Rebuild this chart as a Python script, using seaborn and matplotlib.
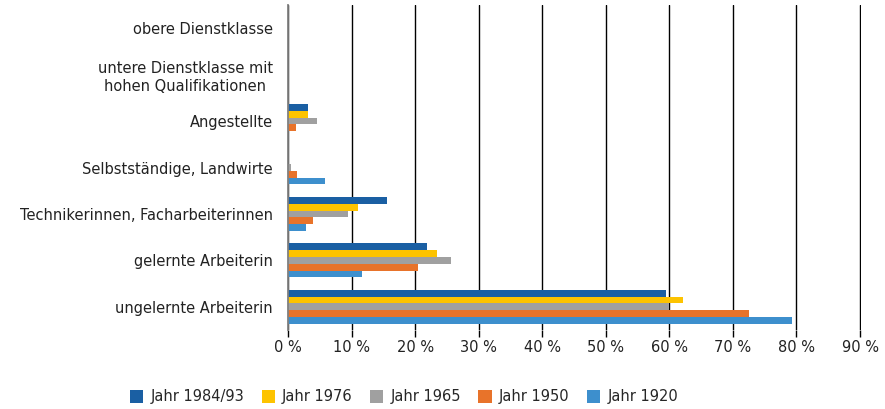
import pandas as pd
import matplotlib
matplotlib.use("Agg")
import matplotlib.pyplot as plt
import seaborn as sns

categories = [
    "obere Dienstklasse",
    "untere Dienstklasse mit\nhohen Qualifikationen",
    "Angestellte",
    "Selbstständige, Landwirte",
    "Technikerinnen, Facharbeiterinnen",
    "gelernte Arbeiterin",
    "ungelernte Arbeiterin",
]
years = ["Jahr 1984/93", "Jahr 1976", "Jahr 1965", "Jahr 1950", "Jahr 1920"]

# percentages per category, one list per year
val_1984 = [0, 0, 3.2, 0, 15.5, 21.8, 59.4]
val_1976 = [0, 0, 3.2, 0, 11.0, 23.4, 62.1]
val_1965 = [0, 0, 4.5, 0.5, 9.5, 25.6, 60.0]
val_1950 = [0, 0, 1.3, 1.4, 4.0, 20.5, 72.6]
val_1920 = [0, 0, 0, 5.8, 2.9, 11.7, 79.3]

colors = ["#1a5fa3", "#fdc300", "#a0a0a0", "#e8732a", "#3d8fcd"]
xticks = [0, 10, 20, 30, 40, 50, 60, 70, 80, 90]

rows = []
for year, vals in zip(years, [val_1984, val_1976, val_1965, val_1950, val_1920]):
    for cat, v in zip(categories, vals):
        rows.append({"Kategorie": cat, "Jahr": year, "Anteil": v})
df = pd.DataFrame(rows)

sns.set_style("white")
plt.rcParams["font.family"] = ["DejaVu Sans"]

fig = plt.figure(figsize=(8.85, 4.09), dpi=100)
ax = fig.add_axes([288 / 885, 1 - 330 / 409, (861 - 288) / 885, (330 - 5) / 409])

sns.barplot(data=df, y="Kategorie", x="Anteil", hue="Jahr", order=categories,
            hue_order=years, palette=colors, orient="h", width=0.73,
            errorbar=None, ax=ax, saturation=1, linewidth=0)

ax.set_xlim(0, 90.15)
ax.set_ylim(6.5, -0.5)
ax.set_xticks(xticks)
ax.set_xticklabels([f"{t} %" for t in xticks], fontsize=10.5, color="#222222")
ax.tick_params(axis="x", length=5, width=1, color="black", direction="out", pad=2,
               bottom=True)
ax.tick_params(axis="y", length=0, labelsize=10.5, pad=11, labelcolor="#222222")
ax.set_xlabel("")
ax.set_ylabel("")
ax.grid(axis="x", color="black", linewidth=1.0)
ax.set_axisbelow(True)
for side in ["top", "right", "bottom"]:
    ax.spines[side].set_visible(False)
ax.spines["left"].set_color("#808080")
ax.spines["left"].set_linewidth(1.3)
for lbl in ax.get_yticklabels():
    lbl.set_horizontalalignment("right")
    lbl.set_multialignment("center")

handles, labels = ax.get_legend_handles_labels()
ax.get_legend().remove()
fig.legend(handles, labels, loc="center", bbox_to_anchor=(404 / 885, 1 - 397 / 409),
           ncol=5, frameon=False, fontsize=10.5, handlelength=0.9, handleheight=0.9,
           handletextpad=0.5, columnspacing=1.2)

fig.savefig("out.png", dpi=100)
